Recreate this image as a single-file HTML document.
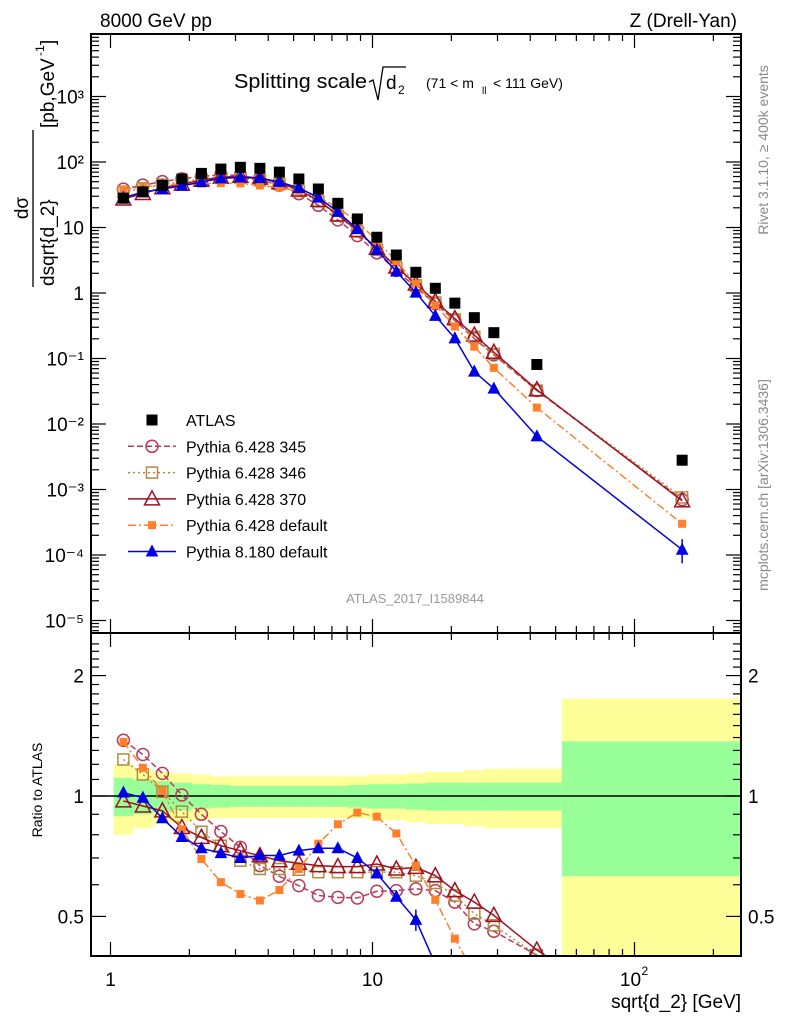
<!DOCTYPE html>
<html><head><meta charset="utf-8"><style>
body{margin:0;background:#fff;overflow:hidden}
svg{display:block;font-family:"Liberation Sans",sans-serif}
</style></head><body>
<svg id="c" width="786" height="1024" xmlns="http://www.w3.org/2000/svg">
<defs>
<clipPath id="cm"><rect x="91" y="34" width="650" height="599"/></clipPath>
<clipPath id="cr"><rect x="91" y="633" width="650" height="323"/></clipPath>
</defs>
<g id="bands" clip-path="url(#cr)"></g>
<g id="ticks"></g>
<line x1="91" y1="796" x2="741" y2="796" stroke="#000" stroke-width="1.5"/>
<g id="series"></g>
<rect x="91" y="34" width="650" height="599" fill="none" stroke="#000" stroke-width="2"/>
<rect x="91" y="633" width="650" height="323" fill="none" stroke="#000" stroke-width="2"/>
<text x="100" y="27" font-size="19">8000 GeV pp</text>
<text x="737" y="27" font-size="19" text-anchor="end">Z (Drell-Yan)</text>
<g>
<text x="234" y="88" font-size="20" textLength="133" lengthAdjust="spacingAndGlyphs">Splitting scale</text>
<path d="M369,82 L373,80 L378,100 L383,67 L406,67" fill="none" stroke="#000" stroke-width="1.3"/>
<text x="386" y="89" font-size="19">d</text><text x="398" y="94" font-size="12">2</text>
<text x="426" y="88" font-size="14">(71 &lt; m</text><text x="482" y="94" font-size="10">ll</text><text x="493" y="88" font-size="14">&lt; 111 GeV)</text>
</g>
<g transform="rotate(-90)">
<text x="-208" y="28" font-size="19" text-anchor="middle">dσ</text>
<line x1="-287" y1="33" x2="-130" y2="33" stroke="#000" stroke-width="1.3"/>
<text x="-286" y="54" font-size="19">dsqrt{d_2}</text>
<text x="-128" y="54" font-size="19">[pb,GeV</text><text x="-56" y="44" font-size="12">-1</text><text x="-45" y="54" font-size="19">]</text>
</g>
<text transform="rotate(-90)" x="-790" y="42" font-size="14" text-anchor="middle">Ratio to ATLAS</text>
<text x="741" y="1008" font-size="19" text-anchor="end">sqrt{d_2} [GeV]</text>
<text transform="rotate(-90)" x="-150" y="768" font-size="14" fill="#888" text-anchor="middle">Rivet 3.1.10, ≥ 400k events</text>
<text transform="rotate(-90)" x="-485" y="768" font-size="14" fill="#888" text-anchor="middle">mcplots.cern.ch [arXiv:1306.3436]</text>
<text x="415" y="603" font-size="13" fill="#999" text-anchor="middle">ATLAS_2017_I1589844</text>
<g id="legend"></g>
</svg>
<script>
const centers=[1.12,1.329,1.578,1.873,2.223,2.638,3.131,3.717,4.411,5.236,6.214,7.376,8.754,10.39,12.33,14.64,17.37,20.62,24.47,29.05,42.4,152];
const edges=[1.028,1.220,1.448,1.719,2.040,2.421,2.874,3.411,4.048,4.805,5.703,6.769,8.034,9.535,11.32,13.43,15.94,18.92,22.46,26.65,31.63,52.8,300];
const atlas=[28,35,44,55,67,78,83,80,70,55,38.7,23.4,13.5,7.1,3.8,2.07,1.18,0.70,0.42,0.248,0.081,0.0028];
const yellowErr=[0.2,0.17,0.15,0.14,0.13,0.12,0.12,0.12,0.12,0.12,0.12,0.12,0.12,0.13,0.13,0.14,0.15,0.15,0.16,0.17,0.17,0.75];
const greenErr=[0.11,0.1,0.09,0.08,0.07,0.065,0.06,0.06,0.06,0.06,0.06,0.06,0.065,0.07,0.07,0.075,0.08,0.08,0.08,0.08,0.08,0.37];
const r345=[1.378,1.27,1.139,1.006,0.90,0.815,0.744,0.67,0.63,0.597,0.564,0.558,0.556,0.578,0.58,0.586,0.58,0.543,0.479,0.459,0.40,0.25];
const r346=[1.234,1.132,1.025,0.914,0.814,0.751,0.689,0.657,0.657,0.654,0.645,0.645,0.645,0.645,0.645,0.632,0.606,0.564,0.508,0.475,0.40,0.27];
const r370=[0.972,0.944,0.918,0.834,0.788,0.751,0.730,0.709,0.689,0.679,0.67,0.666,0.666,0.676,0.657,0.663,0.632,0.58,0.543,0.503,0.412,0.24];
const r6def=[1.365,1.176,1.029,0.826,0.696,0.609,0.569,0.548,0.582,0.657,0.76,0.85,0.909,0.888,0.806,0.67,0.55,0.44,0.36,0.29,0.22,0.107];
const r8def=[1.02,0.99,0.88,0.79,0.74,0.72,0.70,0.71,0.71,0.73,0.74,0.74,0.70,0.64,0.56,0.49,0.38,0.29,0.15,0.14,0.08,0.043];
const mainTicks=["10⁻⁵","10⁻⁴","10⁻³","10⁻²","10⁻¹","1","10","10²","10³"];
const ratioTicks=[0.5,1,2];

const NS="http://www.w3.org/2000/svg";
const X=v=>110.5+262*Math.log10(v);
const YM=v=>293-65.5*Math.log10(v);
const YR=v=>796-400*Math.log10(v);
function mk(tag,attrs,parent){const e=document.createElementNS(NS,tag);for(const k in attrs)e.setAttribute(k,attrs[k]);parent.appendChild(e);return e;}
const bands=document.getElementById('bands'),ticks=document.getElementById('ticks'),series=document.getElementById('series'),legend=document.getElementById('legend');
for(let i=0;i<centers.length;i++){
  const x0=X(edges[i]),x1=X(edges[i+1]);
  let r=mk('rect',{x:x0,y:YR(1+yellowErr[i]),width:x1-x0,height:YR(Math.max(1-yellowErr[i],0.05))-YR(1+yellowErr[i]),fill:'#ffff99'},bands);
  
  
  r=mk('rect',{x:x0,y:YR(1+greenErr[i]),width:x1-x0,height:YR(1-greenErr[i])-YR(1+greenErr[i]),fill:'#99ff99'},bands);
  
  
}
for(let d=0;d<3;d++)for(let m=1;m<10;m++){
  const v=m*Math.pow(10,d);const x=X(v);if(x<92||x>740)continue;
  const L=m===1?14:7;
  for(const [y,s] of [[34,1],[633,-1],[633,1],[956,-1]]) mk('line',{x1:x,y1:y,x2:x,y2:y+s*L,stroke:'#000','stroke-width':1.2},ticks);
}
[[1,'1'],[10,'10']].forEach(([v,t])=>{const e=mk('text',{x:X(v),y:986,'font-size':19,'text-anchor':'middle'},ticks);e.textContent=t;});
{const e=mk('text',{x:X(100)-4,y:986,'font-size':19,'text-anchor':'middle'},ticks);e.textContent='10';
 const s=mk('text',{x:X(100)+7,y:975,'font-size':12},ticks);s.textContent='2';}
for(let d=-6;d<4;d++)for(let m=1;m<10;m++){
  const y=YM(m*Math.pow(10,d));if(y<35||y>632)continue;const L=m===1?15:8;
  mk('line',{x1:91,y1:y,x2:91+L,y2:y,stroke:'#000','stroke-width':1.2},ticks);
  mk('line',{x1:741,y1:y,x2:741-L,y2:y,stroke:'#000','stroke-width':1.2},ticks);
}
mainTicks.forEach((t,i)=>{const e=mk('text',{x:84,y:YM(Math.pow(10,i-5))+7,'font-size':19,'text-anchor':'end'},ticks);e.textContent=t;});
for(let v=0.4;v<=2.5;v+=0.1){const y=YR(v);if(y<634||y>955)continue;
  const major=[0.5,1,2].some(t=>Math.abs(t-v)<1e-6);const L=major?15:8;
  mk('line',{x1:91,y1:y,x2:91+L,y2:y,stroke:'#000','stroke-width':1.2},ticks);
  mk('line',{x1:741,y1:y,x2:741-L,y2:y,stroke:'#000','stroke-width':1.2},ticks);}
ratioTicks.forEach(v=>{let e=mk('text',{x:84,y:YR(v)+7,'font-size':19,'text-anchor':'end'},ticks);e.textContent=String(v);
 e=mk('text',{x:748,y:YR(v)+7,'font-size':19},ticks);e.textContent=String(v);});
function marker(g,type,x,y,col){
  if(type==='sq') return mk('rect',{x:x-5.5,y:y-5.5,width:11,height:11,fill:'#000'},g);
  if(type==='osq') return mk('rect',{x:x-5.5,y:y-5.5,width:11,height:11,fill:'none',stroke:col,'stroke-width':1.5},g);
  if(type==='fsq') return mk('rect',{x:x-4,y:y-4,width:8,height:8,fill:col},g);
  if(type==='oc') return mk('circle',{cx:x,cy:y,r:6,fill:'none',stroke:col,'stroke-width':1.5},g);
  if(type==='ftri') return mk('polygon',{points:`${x},${y-6} ${x-5.5},${y+4.5} ${x+5.5},${y+4.5}`,fill:col,stroke:col,'stroke-width':1},g);
  return mk('polygon',{points:`${x},${y-8} ${x-7.5},${y+6} ${x+7.5},${y+6}`,fill:'none',stroke:col,'stroke-width':1.5},g);
}
const defs=[
 {name:'pythia-6428-345',lab:'Pythia 6.428 345',r:r345,col:'#b83c5a',dash:'6,3',m:'oc'},
 {name:'pythia-6428-346',lab:'Pythia 6.428 346',r:r346,col:'#b08a40',dash:'2,3',m:'osq'},
 {name:'pythia-6428-370',lab:'Pythia 6.428 370',r:r370,col:'#a01020',dash:'',m:'otri'},
 {name:'pythia-6428-default',lab:'Pythia 6.428 default',r:r6def,col:'#ff7f2a',dash:'8,3,2,3',m:'fsq'},
 {name:'pythia-8180-default',lab:'Pythia 8.180 default',r:r8def,col:'#0000e6',dash:'',m:'ftri'}
];
defs.forEach(s=>{
  const gm=mk('g',{'clip-path':'url(#cm)'},series);
  
  
  const gr=mk('g',{'clip-path':'url(#cr)'},series);
  
  
  const pm=centers.map((c,i)=>X(c)+','+YM(atlas[i]*s.r[i])).join(' ');
  const pr=centers.map((c,i)=>X(c)+','+YR(s.r[i])).join(' ');
  const at={fill:'none',stroke:s.col,'stroke-width':1.5};if(s.dash)at['stroke-dasharray']=s.dash;
  mk('polyline',Object.assign({points:pm},at),gm);
  mk('polyline',Object.assign({points:pr},at),gr);
  centers.forEach((c,i)=>{marker(gm,s.m,X(c),YM(atlas[i]*s.r[i]),s.col);marker(gr,s.m,X(c),YR(s.r[i]),s.col);});
});
{const g=series.lastChild;const i=15;mk('line',{x1:X(centers[i]),x2:X(centers[i]),y1:YR(r8def[i]+0.03),y2:YR(r8def[i]-0.03),stroke:'#0000e6','stroke-width':1.5},g);
 const gm=series.children[series.children.length-2];const j=21;
 mk('line',{x1:X(centers[j]),x2:X(centers[j]),y1:YM(atlas[j]*r8def[j]*1.45),y2:YM(atlas[j]*r8def[j]*0.62),stroke:'#0000e6','stroke-width':1.5},gm);}
{const g=mk('g',{'clip-path':'url(#cm)'},series);
 
 
 centers.forEach((c,i)=>marker(g,'sq',X(c),YM(atlas[i]),'#000'));}
const rows=[{lab:'ATLAS',m:'sq',col:'#000',dash:null}].concat(defs);
rows.forEach((s,i)=>{
  const y=420+26.3*i;
  const g=mk('g',{},legend);
  
  
  if(s.dash!==null){const at={x1:128,x2:176,y1:y,y2:y,stroke:s.col,'stroke-width':1.5};if(s.dash)at['stroke-dasharray']=s.dash;mk('line',at,g);}
  marker(g,s.m,152,y,s.col);
  const t=mk('text',{x:186,y:y+6,'font-size':16},g);t.textContent=s.lab;
});
</script>
</body></html>
